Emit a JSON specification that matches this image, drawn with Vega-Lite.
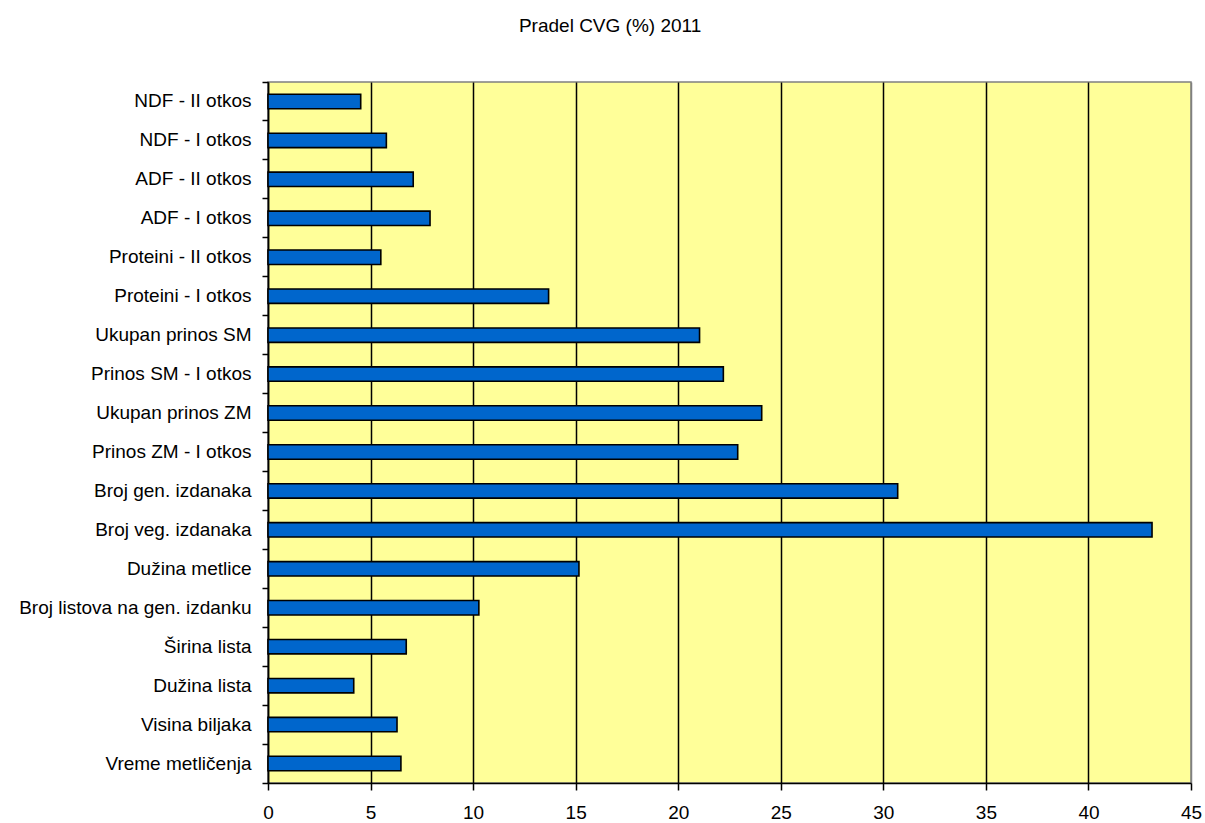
{
  "$schema": "https://vega.github.io/schema/vega-lite/v6.json",
  "autosize": "none",
  "padding": {"left": 268, "top": 82, "right": 14, "bottom": 40},
  "width": 923,
  "height": 701,
  "background": "white",
  "title": {
    "text": "Pradel CVG (%) 2011",
    "font": "Liberation Sans",
    "fontSize": 19,
    "fontWeight": "normal",
    "color": "black",
    "anchor": "middle",
    "frame": "bounds",
    "baseline": "alphabetic",
    "offset": 30
  },
  "config": {
    "view": {"fill": "#FFFF99", "stroke": "#808080", "strokeWidth": 1.5},
    "axis": {"labelFont": "Liberation Sans", "labelFontSize": 19, "labelColor": "black"}
  },
  "data": {
    "values": [
      {"label": "NDF - II otkos", "cvg": 4.52},
      {"label": "NDF - I otkos", "cvg": 5.77},
      {"label": "ADF - II otkos", "cvg": 7.08},
      {"label": "ADF - I otkos", "cvg": 7.9},
      {"label": "Proteini - II otkos", "cvg": 5.5},
      {"label": "Proteini - I otkos", "cvg": 13.68},
      {"label": "Ukupan prinos SM", "cvg": 21.04},
      {"label": "Prinos SM - I otkos", "cvg": 22.2},
      {"label": "Ukupan prinos ZM", "cvg": 24.07},
      {"label": "Prinos ZM - I otkos", "cvg": 22.9},
      {"label": "Broj gen. izdanaka", "cvg": 30.7},
      {"label": "Broj veg. izdanaka", "cvg": 43.1},
      {"label": "Dužina metlice", "cvg": 15.16},
      {"label": "Broj listova na gen. izdanku", "cvg": 10.28},
      {"label": "Širina lista", "cvg": 6.74},
      {"label": "Dužina lista", "cvg": 4.18},
      {"label": "Visina biljaka", "cvg": 6.29},
      {"label": "Vreme metličenja", "cvg": 6.48}
    ]
  },
  "resolve": {"axis": {"y": "independent", "x": "independent"}},
  "layer": [
    {
      "mark": {"type": "bar", "fill": "#0066CC", "stroke": "black", "strokeWidth": 1.6, "height": {"band": 0.37}},
      "encoding": {
        "y": {
          "field": "label", "type": "nominal", "sort": null,
          "scale": {"paddingInner": 0, "paddingOuter": 0},
          "axis": {"orient": "left", "title": null, "ticks": false, "labelPadding": 17, "domain": true, "domainColor": "black", "domainWidth": 1.5, "labelLimit": 400}
        },
        "x": {
          "field": "cvg", "type": "quantitative",
          "scale": {"domain": [0, 45], "nice": false, "zero": true},
          "axis": {
            "orient": "bottom",
            "title": null,
            "values": [0, 5, 10, 15, 20, 25, 30, 35, 40, 45],
            "grid": true,
            "gridColor": {"condition": {"test": "datum.value === 45", "value": "#808080"}, "value": "black"},
            "gridWidth": 1.5,
            "gridOpacity": 1,
            "domainColor": "black",
            "domainWidth": 1.5,
            "tickColor": "black",
            "tickWidth": 1.5,
            "tickSize": 7,
            "labelPadding": 13,
            "labelFlush": false
          }
        }
      }
    },
    {
      "mark": {"type": "bar", "opacity": 0, "height": {"band": 0.37}},
      "encoding": {
        "y": {
          "field": "label", "type": "nominal", "sort": null,
          "axis": {"orient": "left", "title": null, "labels": false, "domain": false, "ticks": true, "tickColor": "black", "tickWidth": 1.5, "tickSize": 6, "bandPosition": 0}
        },
        "x": {"field": "cvg", "type": "quantitative", "axis": null}
      }
    },
    {
      "mark": {"type": "bar", "opacity": 0, "height": {"band": 0.37}},
      "encoding": {
        "y": {
          "field": "label", "type": "nominal", "sort": null,
          "axis": {"orient": "left", "title": null, "labels": false, "domain": false, "ticks": true, "tickColor": "black", "tickWidth": 1.5, "tickSize": 6, "bandPosition": 1, "values": ["Vreme metličenja"]}
        },
        "x": {"field": "cvg", "type": "quantitative", "axis": null}
      }
    }
  ]
}
